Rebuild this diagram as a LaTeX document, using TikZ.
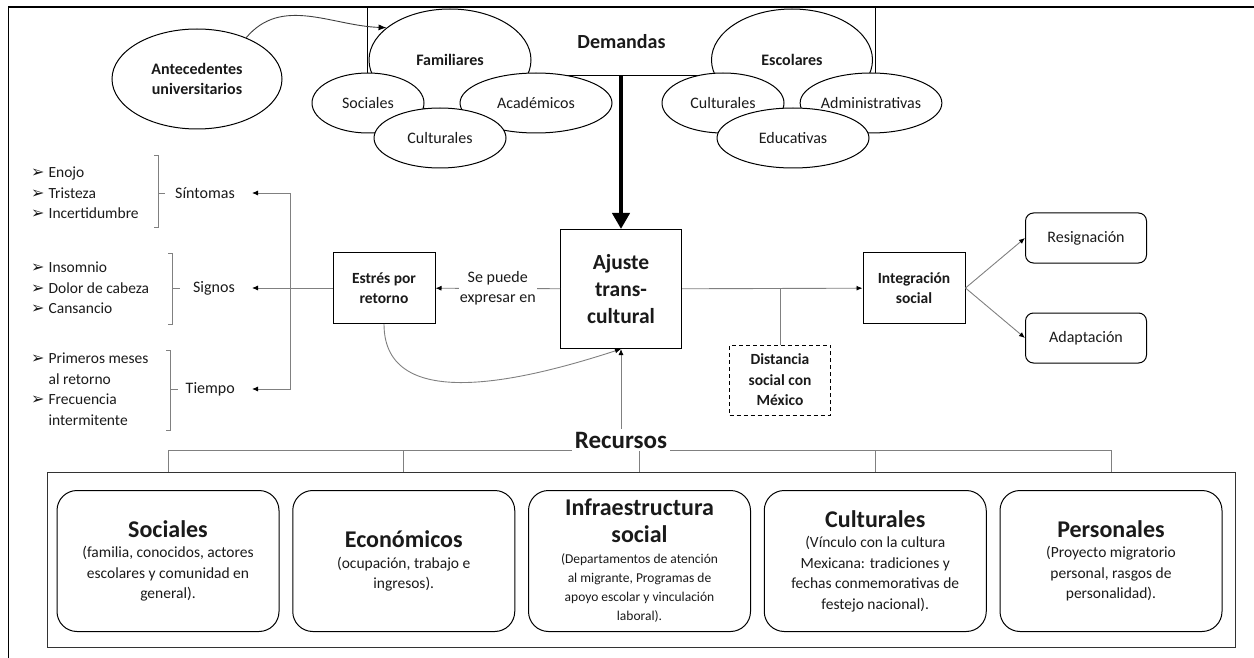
\documentclass[tikz,border=0pt]{standalone}
\usepackage{fontspec}
\setmainfont{Carlito}
\newfontfamily\symfont{DejaVu Sans}
\usetikzlibrary{arrows.meta,positioning,calc,shapes.geometric}
\definecolor{lngray}{HTML}{808080}
\definecolor{txt}{HTML}{1A1A1A}
\newcommand{\bul}{{\symfont\fontsize{16}{16}\selectfont ➢}\hspace{4pt}}
\newcommand{\ttl}[1]{{\fontsize{24}{30}\selectfont\bfseries #1}}

\begin{document}
\begin{tikzpicture}[x=1pt, y=-1pt,
  font=\fontsize{15.5}{20.5}\selectfont, text=txt,
  e/.style={draw, ellipse, fill=white, inner sep=0pt, line width=1pt, font=\fontsize{16}{19}\selectfont},
  b/.style={draw, fill=white, align=center, inner sep=2pt, line width=1pt, font=\fontsize{15.5}{20.5}\selectfont\bfseries},
  r/.style={draw, rounded corners=8pt, align=center, line width=1pt, minimum width=121, minimum height=50, font=\fontsize{16}{20}\selectfont},
  rb/.style={draw, rounded corners=20pt, align=center, line width=1pt, minimum width=222, minimum height=141},
  lbl/.style={inner xsep=17pt, inner ysep=2pt, font=\fontsize{16}{20}\selectfont},
  ln/.style={draw=lngray, line width=0.9pt},
  arr/.style={ln, -{Latex[length=6pt, width=5pt, color=black]}},
  brk/.style={draw=lngray, line width=0.9pt}
]
\useasboundingbox (0,0) rectangle (1254,658);

% frame
\draw[line width=2.2pt] (8,7) -- (1254,7);
\draw[line width=1pt] (8,7) -- (8,658);

% demandas
\node[draw, fill=white, line width=1pt, minimum width=508, minimum height=68, anchor=north west,
  font=\fontsize{20}{24}\selectfont\bfseries] (dem) at (367,7) {Demandas};
\draw[line width=2.2pt] (367,7) -- (875,7);
\node[e, minimum width=162, minimum height=102, font=\fontsize{16}{19}\selectfont\bfseries] (fam) at (450,60) {Familiares};
\node[e, minimum width=112, minimum height=60] (fsoc) at (368,103) {Sociales};
\node[e, minimum width=152, minimum height=60] (faca) at (536,103) {Académicos};
\node[e, minimum width=132, minimum height=60] (fcul) at (440,138) {Culturales};
\node[e, minimum width=161, minimum height=102, font=\fontsize{16}{19}\selectfont\bfseries] (esc) at (792,60) {Escolares};
\node[e, minimum width=122, minimum height=60] (ecul) at (723,103) {Culturales};
\node[e, minimum width=124, minimum height=60] (eadm) at (871,103) {Administrativas};
\node[e, minimum width=152, minimum height=60] (eedu) at (793,138) {Educativas};

\node[e, minimum width=170, minimum height=100, align=center, font=\fontsize{16}{19.5}\selectfont\bfseries] (ante) at (197,79) {Antecedentes\\universitarios};
\draw[ln, draw=black!75, -{Latex[length=8pt, width=6pt, color=black]}] (ante.40) to[out=50, in=178] (fam.153);

% centro
\node[b, minimum width=121, minimum height=119, font=\fontsize{21.5}{27}\selectfont\bfseries] (aj) at (621,289) {Ajuste\\trans-\\cultural};
\draw[line width=4.5pt, -{Triangle[length=16pt, width=17pt]}] (dem.south -| aj.north) -- (aj.north);
\node[b, minimum width=102, minimum height=71] (es) at (384,288) {Estrés por\\retorno};
\node[b, minimum width=102, minimum height=71] (int) at (914,288) {Integración\\social};
\node[b, dash pattern=on 4pt off 3pt, minimum width=101, minimum height=70, fill=none] (dist) at (780,380) {Distancia\\social con\\México};
\node[r] (res) at (1086,238) {Resignación};
\node[r] (ada) at (1086,338) {Adaptación};

\draw[arr] (aj) -- node[fill=white, align=center, inner sep=1pt, font=\fontsize{16}{20}\selectfont] {Se puede\\expresar en} (es);
\draw[arr] (aj) -- (int);
\draw[ln] (dist) -- (dist |- aj.east);
\draw[arr] (int.east) -- (res.west);
\draw[arr] (int.east) -- (ada.west);
\draw[arr] (es.south) to[out=-90, in=198] (aj.south);

% izquierda
\node[lbl, anchor=east] (sint) at (252,193) {Síntomas};
\node[lbl, anchor=east] (sig) at (252,288) {Signos};
\node[lbl, anchor=east] (tiem) at (252,389) {Tiempo};
\coordinate (trunk) at (290,288);
\draw[ln] (es) -- (trunk);
\draw[arr] (trunk) |- (sint);
\draw[arr] (trunk) -- (sig);
\draw[arr] (trunk) |- (tiem);

\node[anchor=west, align=left, inner sep=0pt] (l1) at (31,193) {\bul Enojo\\\bul Tristeza\\\bul Incertidumbre};
\node[anchor=west, align=left, inner sep=0pt] (l2) at (31,288) {\bul Insomnio\\\bul Dolor de cabeza\\\bul Cansancio};
\node[anchor=west, align=left, inner sep=0pt] (l3) at (31,389) {\bul Primeros meses\\\phantom{\bul}al retorno\\\bul Frecuencia\\\phantom{\bul}intermitente};
\draw[brk] (154,155) -- (158,155) -- (158,227) -- (154,227) (158,193) -- (165,193);
\draw[brk] (168,253) -- (172,253) -- (172,324) -- (168,324) (172,288) -- (180,288);
\draw[brk] (166,350) -- (170,350) -- (170,430) -- (166,430) (170,389) -- (178,389);

% recursos
\node[draw=black!80, line width=1pt, minimum width=1188, minimum height=175, anchor=north west] (rbox) at (47,472) {};
\node[rb] (soc) at (168,561) {\ttl{Sociales}\\(familia, conocidos, actores\\escolares y comunidad en\\general).};
\node[rb, right=12.75pt of soc] (eco) {\ttl{Económicos}\\(ocupación, trabajo e\\ingresos).};
\node[rb, right=12.75pt of eco, font=\fontsize{13.5}{19}\selectfont] (inf) {\ttl{Infraestructura}\\[8pt]\ttl{social}\\[2pt](Departamentos de atención\\al migrante, Programas de\\apoyo escolar y vinculación\\laboral).};
\node[rb, right=12.75pt of inf] (cul) {\ttl{Culturales}\\(Vínculo con la cultura\\Mexicana: tradiciones y\\fechas conmemorativas de\\festejo nacional).};
\node[rb, right=12.75pt of cul] (per) {\ttl{Personales}\\(Proyecto migratorio\\personal, rasgos de\\personalidad).};

\coordinate (rline) at (0,450);
\draw[ln] (soc |- rline) -- (per |- rline);
\draw[ln] (soc |- rline) -- (soc |- rbox.north);
\draw[ln] (eco |- rline) -- (eco |- rbox.north);
\draw[ln] (inf |- rline) -- (inf |- rbox.north);
\draw[ln] (cul |- rline) -- (cul |- rbox.north);
\draw[ln] (per |- rline) -- (per |- rbox.north);
\node[fill=white, inner sep=3pt, font=\fontsize{25}{30}\selectfont\bfseries] (rec) at (621,440) {Recursos};
\draw[arr] (rec) -- (aj);
\end{tikzpicture}
\end{document}
